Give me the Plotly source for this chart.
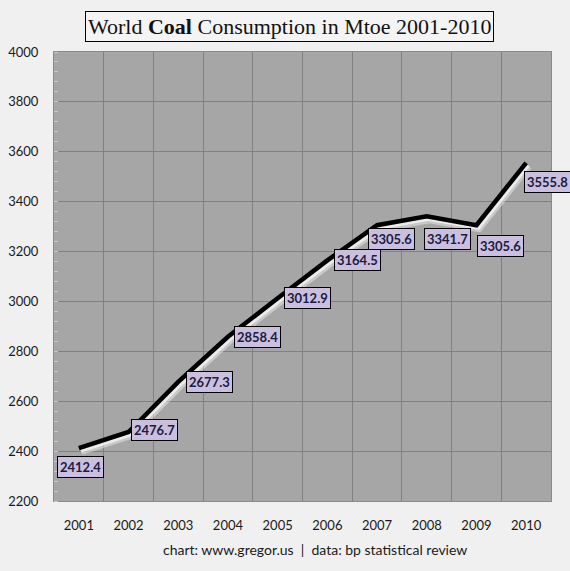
import plotly.graph_objects as go

years = ["2001", "2002", "2003", "2004", "2005", "2006", "2007", "2008", "2009", "2010"]
consumption = [2412.4, 2476.7, 2677.3, 2858.4, 3012.9, 3164.5, 3305.6, 3341.7, 3305.6, 3555.8]
value_labels = ["2412.4", "2476.7", "2677.3", "2858.4", "3012.9", "3164.5", "3305.6", "3341.7", "3305.6", "3555.8"]
y_ticks = [2200, 2400, 2600, 2800, 3000, 3200, 3400, 3600, 3800, 4000]

# label placement (pixel offsets from the point), style only
label_dx = [2, 26, 31, 30, 30, 30, 14, 21, 24, 21]
label_dy = [19, -2, 0, 0, 0, 0, 14, 23, 21, 19]

xi = list(range(len(years)))
bounds = [i - 0.5 for i in range(len(years) + 1)]

fig = go.Figure()
# soft light shadow below the line
fig.add_trace(go.Scatter(x=[v + 0.05 for v in xi], y=[v - 14 for v in consumption], mode="lines",
                         line=dict(color="rgba(235,235,235,0.5)", width=7), hoverinfo="skip", showlegend=False))
fig.add_trace(go.Scatter(x=[v + 0.04 for v in xi], y=[v - 10 for v in consumption], mode="lines",
                         line=dict(color="rgba(245,245,245,0.8)", width=4), hoverinfo="skip", showlegend=False))
fig.add_trace(go.Scatter(x=xi, y=consumption, mode="lines",
                         line=dict(color="black", width=4.5), showlegend=False))

for i, (v, t) in enumerate(zip(consumption, value_labels)):
    fig.add_annotation(x=xi[i], y=v, text="<b>" + t + "</b>", showarrow=False,
                       xshift=label_dx[i], yshift=-label_dy[i],
                       font=dict(family="Lato", size=13, color="#1c1c3c"),
                       bgcolor="#cbbfe0", bordercolor="#000000", borderwidth=1, borderpad=2)

fig.add_annotation(xref="paper", yref="paper", x=0.5, y=1.0, yanchor="middle", yshift=26, xshift=-13,
                   text="World <b>Coal</b> Consumption in Mtoe 2001-2010", showarrow=False,
                   font=dict(family="Liberation Serif", size=22, color="#111111"),
                   bgcolor="#f4f4f4", bordercolor="#000000", borderwidth=1, borderpad=2)

fig.add_annotation(xref="paper", yref="paper", x=0.525, y=0, yanchor="middle", yshift=-48,
                   text="chart: www.gregor.us  |  data: bp statistical review", showarrow=False,
                   font=dict(family="Lato", size=14, color="#1a1a1a"))

fig.update_layout(
    width=570, height=571,
    margin=dict(l=54, r=19, t=52, b=70),
    paper_bgcolor="#f0f0f0", plot_bgcolor="#a6a6a6",
    showlegend=False,
    xaxis=dict(range=[-0.5, 9.5], tickmode="array", tickvals=xi, ticktext=years,
               showgrid=False, zeroline=False, ticks="", ticklen=0, automargin=False,
               ticklabelstandoff=12,
               tickfont=dict(family="Lato", size=13, color="#1a1a1a"),
               showline=True, linecolor="#8a8a8a", linewidth=1, mirror=True,
               minor=dict(tickmode="array", tickvals=bounds, showgrid=True, gridcolor="#808080", gridwidth=1, ticks=""),
               fixedrange=True),
    yaxis=dict(range=[2200, 4000], tickmode="array", tickvals=y_ticks,
               showgrid=True, gridcolor="#808080", gridwidth=1, zeroline=False, automargin=False,
               tickfont=dict(family="Lato", size=13, color="#1a1a1a"),
               showline=True, linecolor="#8a8a8a", linewidth=1, mirror=True,
               ticks="", ticklabelstandoff=12,
               minor=dict(dtick=40, tick0=2200, ticks="inside", ticklen=4, tickcolor="#c8c8c8", showgrid=False),
               fixedrange=True),
)

fig.write_html("out.html", config={"displayModeBar": False},
               post_script="document.body.style.margin='0px';document.body.style.overflow='hidden';")
